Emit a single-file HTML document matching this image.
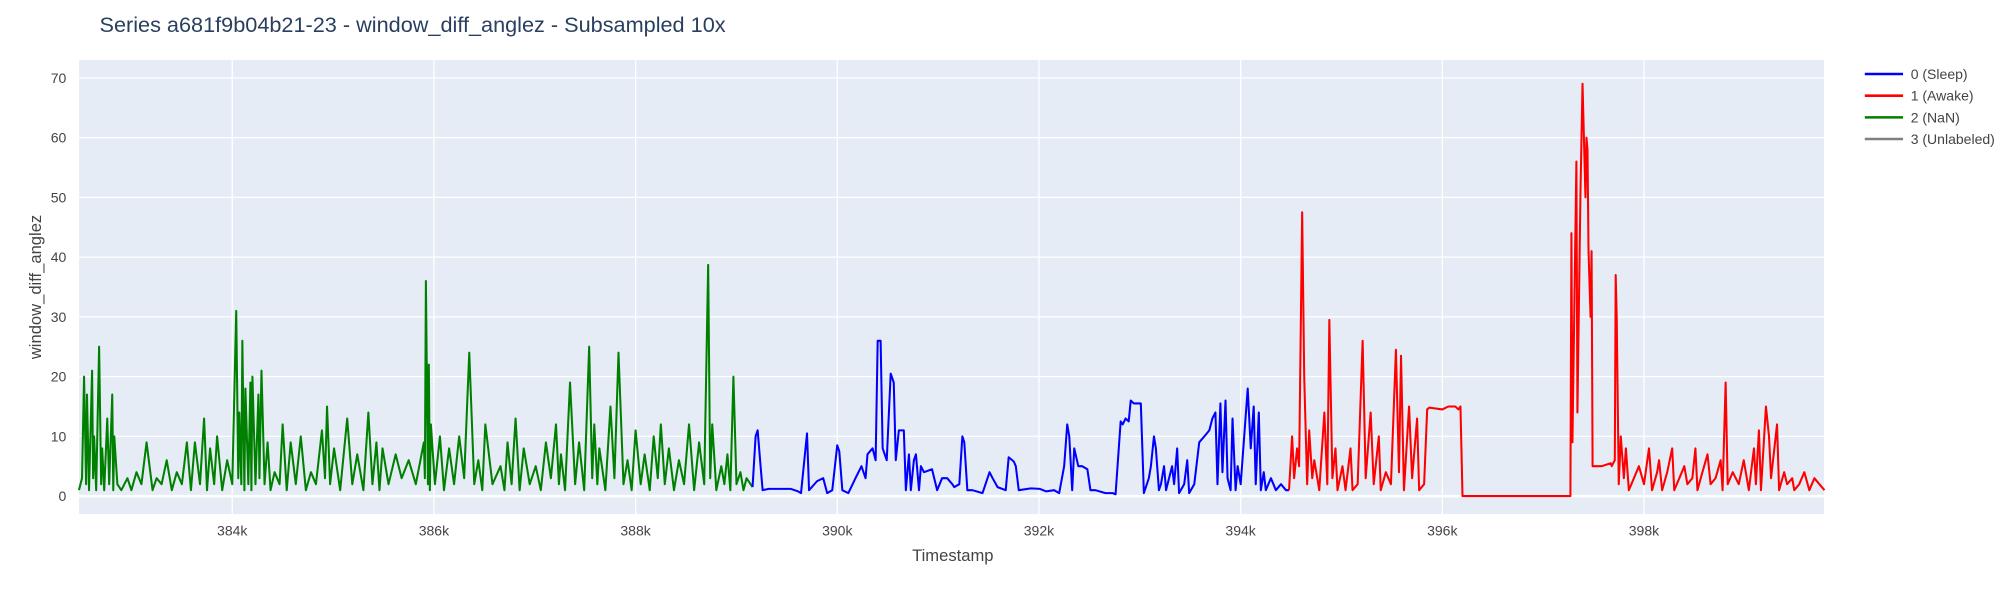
<!DOCTYPE html>
<html><head><meta charset="utf-8"><style>
body{margin:0;background:#fff;}
svg text{font-family:"Liberation Sans",sans-serif;}
</style></head><body>
<svg id="chart" width="2000" height="600" viewBox="0 0 1568 470.4" preserveAspectRatio="none" xmlns="http://www.w3.org/2000/svg">
<rect x="0" y="0" width="1568" height="470.4" fill="#fff"/>
<text x="78" y="25" font-size="17" fill="#2a3f5f">Series a681f9b04b21-23 - window_diff_anglez - Subsampled 10x</text>
<rect x="62" y="47" width="1368" height="356" fill="#e5ecf6"/>
<g id="grid"></g>
<g id="series"></g>
<g id="axes"></g>
<text x="747" y="440" font-size="13" fill="#444" text-anchor="middle">Timestamp</text>
<text x="32" y="225" font-size="13" fill="#444" text-anchor="middle" transform="rotate(-90 32 225)">window_diff_anglez</text>
<g id="legend"></g>
</svg>
<script>
const xTicks=[384,386,388,390,392,394,396,398];
const xTickLabels=["384k","386k","388k","390k","392k","394k","396k","398k"];
const yTicks=[0,10,20,30,40,50,60,70];
const greenT=[382.48,382.51,382.53,382.55,382.56,382.58,382.61,382.62,382.63,382.65,382.68,382.70,382.71,382.73,382.76,382.78,382.81,382.82,382.83,382.86,382.90,382.96,383.00,383.05,383.10,383.15,383.21,383.25,383.30,383.35,383.40,383.45,383.50,383.55,383.59,383.63,383.68,383.72,383.75,383.78,383.82,383.85,383.90,383.95,384.00,384.04,384.06,384.07,384.09,384.10,384.12,384.13,384.16,384.18,384.19,384.20,384.23,384.26,384.27,384.29,384.32,384.35,384.38,384.42,384.47,384.50,384.54,384.58,384.63,384.68,384.73,384.78,384.83,384.89,384.92,384.94,384.97,385.01,385.07,385.14,385.19,385.24,385.30,385.35,385.39,385.43,385.46,385.49,385.55,385.62,385.68,385.75,385.82,385.90,385.91,385.92,385.94,385.95,385.96,385.97,386.01,386.06,386.10,386.15,386.20,386.25,386.30,386.35,386.40,386.44,386.48,386.51,386.58,386.66,386.70,386.73,386.77,386.81,386.85,386.89,386.95,387.01,387.06,387.11,387.16,387.21,387.24,387.26,387.30,387.35,387.40,387.44,387.49,387.54,387.57,387.59,387.62,387.64,387.70,387.75,387.79,387.83,387.88,387.92,387.96,388.00,388.05,388.09,388.14,388.18,388.22,388.25,388.29,388.33,388.38,388.43,388.48,388.53,388.58,388.63,388.68,388.72,388.74,388.76,388.80,388.85,388.88,388.91,388.94,388.97,389.00,389.04,389.07,389.10,389.16];
const greenV=[1,3,20,2,17,1,21,3,10,1,25,2,8,1,13,2,17,1,10,2,1,3,1,4,2,9,1,3,2,6,1,4,2,9,1,9,2,13,1,8,2,10,1,6,2,31,3,14,2,26,1,18,2,19,1,20,2,17,3,21,2,9,1,4,2,12,1,9,2,10,1,4,2,11,3,15,2,8,1,13,2,7,1,14,2,9,1,8,2,7,3,6,2,9,3,36,2,22,1,12,2,10,1,8,2,10,3,24,2,6,1,12,2,5,1,9,2,13,1,8,2,5,1,9,3,12,2,7,1,19,2,9,1,25,3,12,2,8,1,15,3,24,2,6,1,11,2,7,1,10,3,12,2,8,1,6,2,12,1,9,2,38.7,3,12,1,5,2,7,1,20,2,4,1,3,1.5];
const blueT=[389.16,389.19,389.21,389.24,389.26,389.32,389.54,389.61,389.64,389.70,389.72,389.80,389.86,389.90,389.95,390.00,390.02,390.05,390.11,390.18,390.24,390.28,390.30,390.35,390.38,390.40,390.43,390.45,390.49,390.53,390.56,390.58,390.61,390.66,390.68,390.71,390.73,390.76,390.78,390.81,390.83,390.86,390.94,390.99,391.04,391.09,391.14,391.16,391.21,391.24,391.26,391.29,391.34,391.44,391.51,391.54,391.59,391.67,391.70,391.75,391.77,391.80,391.92,392.01,392.07,392.15,392.20,392.25,392.28,392.30,392.33,392.35,392.39,392.43,392.48,392.51,392.56,392.66,392.73,392.76,392.81,392.83,392.86,392.89,392.91,392.94,393.01,393.04,393.09,393.11,393.14,393.16,393.19,393.21,393.24,393.26,393.32,393.34,393.37,393.39,393.44,393.47,393.49,393.54,393.59,393.64,393.69,393.72,393.75,393.77,393.80,393.82,393.85,393.87,393.90,393.92,393.95,393.97,394.00,394.07,394.10,394.13,394.15,394.18,394.20,394.23,394.25,394.30,394.35,394.40,394.45,394.48];
const blueV=[1.5,10,11,5,1,1.2,1.2,0.8,0.5,10.5,1,2.5,3,0.5,1,8.5,7.5,1,0.5,3,5,3,7,8,6,26,26,8,6,20.5,19,6,11,11,1,7,1,6,7,1,5,4,4.5,1,3,3,2,1.5,2,10,9,1,1,0.5,4,3,1.5,1,6.5,5.8,5,1,1.3,1.2,0.8,1,0.5,5,12,10,1,8,5,5,4.5,1,1,0.5,0.5,0.3,12.5,12,13,12.5,16,15.5,15.5,0.5,3,5,10,8,1,2,5,1,5,2,8,0.5,2,6,0.5,2,9,10,11,13,14,2,15.5,4,16,3,1,13,1,5,2,18,8,15,2,14,1,4,1,3,1,2,1,1];
const redT=[394.48,394.51,394.53,394.56,394.58,394.61,394.63,394.66,394.68,394.71,394.73,394.78,394.83,394.86,394.88,394.91,394.94,394.96,395.01,395.04,395.09,395.11,395.16,395.21,395.24,395.29,395.32,395.37,395.39,395.44,395.49,395.54,395.57,395.59,395.62,395.67,395.70,395.75,395.77,395.82,395.85,395.87,396.00,396.06,396.13,396.16,396.18,396.20,397.27,397.28,397.29,397.32,397.33,397.34,397.37,397.39,397.42,397.43,397.44,397.45,397.47,397.48,397.49,397.58,397.67,397.68,397.71,397.72,397.73,397.75,397.77,397.80,397.82,397.85,397.90,397.95,398.00,398.05,398.08,398.13,398.15,398.18,398.23,398.28,398.30,398.35,398.40,398.43,398.48,398.51,398.53,398.58,398.63,398.66,398.71,398.76,398.78,398.81,398.83,398.88,398.94,398.99,399.04,399.09,399.11,399.14,399.16,399.21,399.24,399.26,399.32,399.34,399.39,399.42,399.47,399.49,399.54,399.59,399.64,399.69,399.74,399.79];
const redV=[1,10,3,8,5,47.5,20,2,11,3,6,1,14,2,29.5,3,8,1,5,1,8,1,2,26,3,14,2,10,1,4,2,24.5,4,23.5,1,15,3,13,1,2,14.5,14.8,14.5,15,15,14.5,15,0,0,44,9,44,56,14,51,69,50,60,58,41,30,41,5,5,5.5,5,6,37,30,2,10,3,8,1,3,5,2,8,1,4,6,1,4,8,1,3,5,2,3,8,1,4,7,2,3,6,1,19,2,4,2,6,1,8,2,11,1,15,10,3,12,1,4,2,3,1,2,4,1,3,2,1];
const legendLabels=["0 (Sleep)","1 (Awake)","2 (NaN)","3 (Unlabeled)"];
const legendColors=["#0000ff","#ff0000","#008000","#808080"];

const NS="http://www.w3.org/2000/svg";
const X0=62,X1=1430,Y0=403,Y1=47,TMIN=382.481,TMAX=399.785,VMIN=-3,VMAX=73;
function xs(t){return X0+(t-TMIN)/(TMAX-TMIN)*(X1-X0);}
function ys(v){return Y0-(v-VMIN)/(VMAX-VMIN)*(Y0-Y1);}
function mk(tag,attrs,parent){const e=document.createElementNS(NS,tag);for(const k in attrs)e.setAttribute(k,attrs[k]);parent.appendChild(e);return e;}
const grid=document.getElementById('grid'),axes=document.getElementById('axes'),ser=document.getElementById('series'),leg=document.getElementById('legend');
xTicks.forEach((t,i)=>{
  const l=mk('line',{x1:xs(t),x2:xs(t),y1:Y1,y2:Y0,stroke:'#fff','stroke-width':1},grid);
  
  
  const tx=mk('text',{x:xs(t),y:420,'font-size':11,fill:'#444','text-anchor':'middle'},axes);
  tx.textContent=xTickLabels[i];
  
  
});
yTicks.forEach(v=>{
  const l=mk('line',{x1:X0,x2:X1,y1:ys(v),y2:ys(v),stroke:'#fff','stroke-width':v===0?2:1},grid);
  
  
  const tx=mk('text',{x:52,y:ys(v)+4,'font-size':11,fill:'#444','text-anchor':'end'},axes);
  tx.textContent=String(v);
  
  
});
function line(T,V,color,name){
  const d=T.map((t,i)=>(i?'L':'M')+xs(t).toFixed(1)+','+ys(V[i]).toFixed(1)).join('');
  const p=mk('path',{d:d,fill:'none',stroke:color,'stroke-width':1.6,'stroke-linejoin':'round'},ser);
  
  
}
line(greenT,greenV,'#008000','series-nan-line');
line(blueT,blueV,'#0000ff','series-sleep-line');
line(redT,redV,'#ff0000','series-awake-line');
legendLabels.forEach((lab,i)=>{
  const y=58+i*17;
  const g=mk('g',{},leg);
  
  
  mk('line',{x1:1462,x2:1492,y1:y,y2:y,stroke:legendColors[i],'stroke-width':2},g);
  const t=mk('text',{x:1498,y:y+4,'font-size':11,fill:'#444'},g);
  t.textContent=lab;
});
</script>
</body></html>
